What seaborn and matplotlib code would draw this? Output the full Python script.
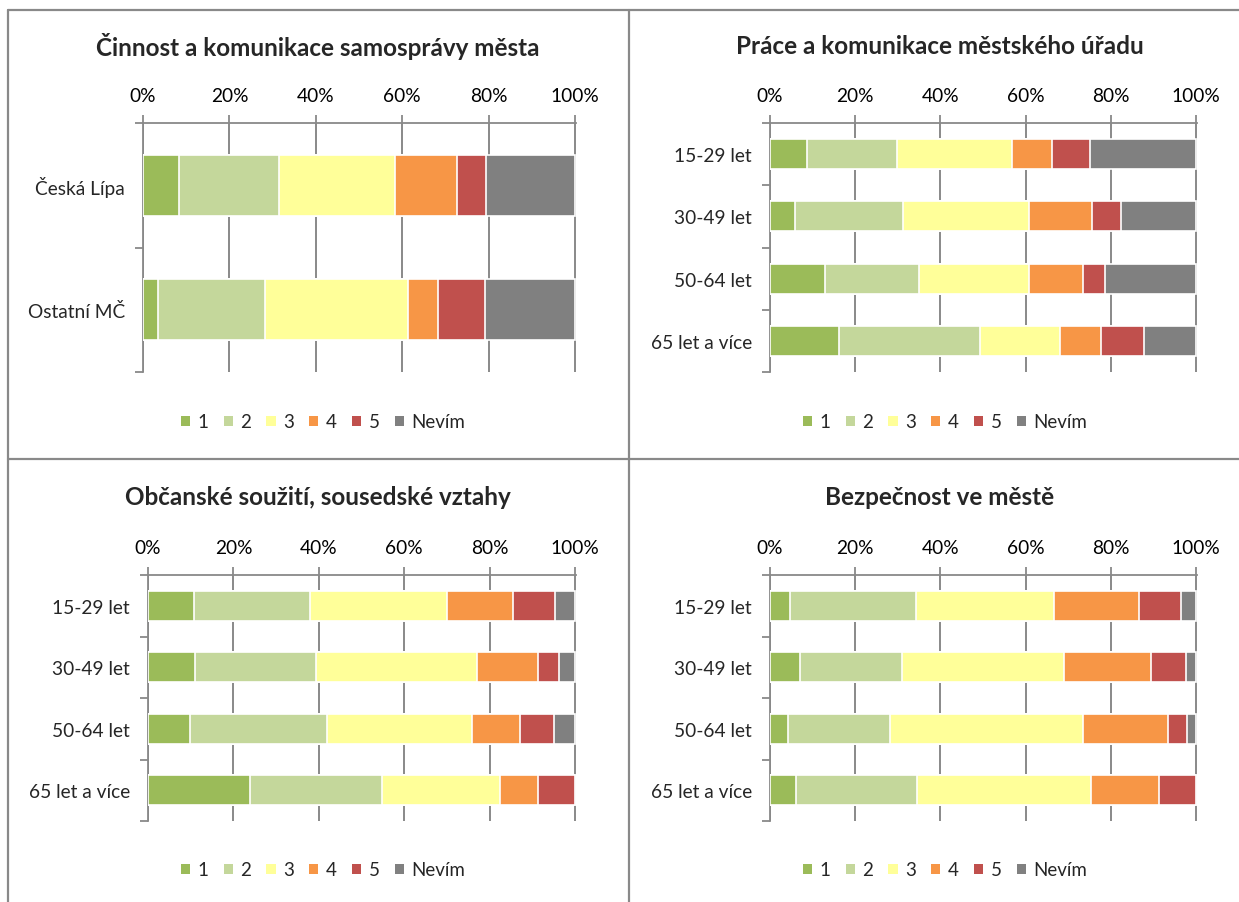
import numpy as np
import pandas as pd
import matplotlib
matplotlib.use("Agg")
import matplotlib.pyplot as plt
from matplotlib.patches import Patch
from matplotlib.lines import Line2D
from matplotlib.ticker import PercentFormatter
import seaborn as sns

# --- data (percent of respondents) ---
levels = ["1", "2", "3", "4", "5", "Nevím"]
colors = ["#9BBB59", "#C4D79B", "#FFFF99", "#F79646", "#C0504D", "#808080"]

mesta = ["Česká Lípa", "Ostatní MČ"]
vek = ["15-29 let", "30-49 let", "50-64 let", "65 let a více"]

samosprava = [
    [8.4, 23.1, 26.8, 14.3, 6.9, 20.5],
    [3.4, 24.8, 33.2, 6.8, 11.0, 20.8],
]
urad = [
    [8.6, 21.3, 26.9, 9.4, 9.0, 24.8],
    [5.8, 25.4, 29.6, 14.8, 6.8, 17.6],
    [12.9, 22.0, 25.9, 12.7, 5.1, 21.4],
    [16.1, 33.2, 18.7, 9.8, 9.9, 12.3],
]
souziti = [
    [10.7, 27.3, 32.1, 15.3, 9.9, 4.7],
    [10.9, 28.5, 37.7, 14.3, 4.9, 3.7],
    [9.9, 32.0, 34.0, 11.3, 7.8, 5.0],
    [23.8, 31.1, 27.6, 8.8, 8.7, 0.0],
]
bezpecnost = [
    [4.7, 29.6, 32.3, 20.1, 9.9, 3.4],
    [7.1, 23.8, 38.2, 20.4, 8.2, 2.3],
    [4.3, 23.8, 45.4, 20.0, 4.4, 2.1],
    [6.1, 28.4, 40.9, 15.9, 8.7, 0.0],
]

sns.set_style("white")
plt.rcParams["font.family"] = ["Lato", "DejaVu Sans"]

W, H = 1239, 903
fig = plt.figure(figsize=(W / 100, H / 100), dpi=100)
GRAY = "#898989"


def fx(x):
    return x / W


def fy(y):
    return 1 - y / H


panels = [
    # title, cats, rows, (left, top, right, bottom) px, legend center x, title center x, title y, legend y, bar width
    ("Činnost a komunikace samosprávy města", mesta, samosprava, (143, 124, 576, 373), 323, 318, 47, 423, 0.49),
    ("Práce a komunikace městského úřadu", vek, urad, (770, 124, 1197, 373), 945, 940, 47, 423, 0.48),
    ("Občanské soužití, sousedské vztahy", vek, souziti, (148, 576, 576, 822), 323, 318, 498, 871, 0.48),
    ("Bezpečnost ve městě", vek, bezpecnost, (770, 576, 1197, 822), 945, 940, 498, 871, 0.48),
]

for title, cats, rows, (l, t, r, b), lx, cx, ty, ly, bw in panels:
    ax = fig.add_axes([fx(l), fy(b), (r - l) / W, (b - t) / H])
    df = pd.DataFrame(rows, index=cats, columns=levels)
    cum = df.cumsum(axis=1)
    long = cum.reset_index(names="cat").melt(id_vars="cat", var_name="level", value_name="cum")
    # draw cumulative bars from the longest one down, so each segment shows
    for lvl, col in reversed(list(zip(levels, colors))):
        sns.barplot(data=long[long["level"] == lvl], x="cum", y="cat", order=cats,
                    color=col, saturation=1, width=bw, edgecolor="white", linewidth=1.2,
                    errorbar=None, orient="h", ax=ax, zorder=3)
    ax.set_xlim(0, 100.25)
    ax.set_ylim(len(cats) - 0.5, -0.5)
    ax.set_xlabel("")
    ax.set_ylabel("")
    ax.xaxis.tick_top()
    ax.set_xticks(np.arange(0, 101, 20))
    ax.xaxis.set_major_formatter(PercentFormatter(decimals=0))
    ax.tick_params(axis="x", top=True, length=6, width=1.3, color=GRAY, pad=8,
                   labelsize=13.8, labelcolor="black")
    ax.set_yticks(np.arange(-0.5, len(cats)), minor=True)
    ax.tick_params(axis="y", which="major", length=0, pad=13, labelsize=13.8)
    ax.tick_params(axis="y", which="minor", left=True, length=6, width=1.3, color=GRAY)
    ax.grid(axis="x", color=GRAY, linewidth=1.4, zorder=0)
    ax.grid(axis="y", visible=False)
    ax.set_axisbelow(True)
    for side in ["right", "bottom"]:
        ax.spines[side].set_visible(False)
    for side in ["top", "left"]:
        ax.spines[side].set_color(GRAY)
        ax.spines[side].set_linewidth(1.3)

    fig.text(fx(cx), fy(ty), title, ha="center", va="center", fontsize=17.5, fontweight="bold")
    handles = [Patch(facecolor=c, edgecolor="none") for c in colors]
    fig.legend(handles, levels, loc="center", bbox_to_anchor=(fx(lx), fy(ly)), ncol=6,
               frameon=False, fontsize=13.5, handlelength=0.5, handleheight=0.5,
               handletextpad=0.4, columnspacing=0.8)

# panel frame lines
for xs, ys in [((8, W), (11, 11)), ((8, 8), (11, H)), ((629, 629), (11, H)), ((8, W), (460, 460))]:
    fig.add_artist(Line2D([fx(xs[0]), fx(xs[1])], [fy(ys[0]), fy(ys[1])],
                          color=GRAY, linewidth=1.6, transform=fig.transFigure))

fig.savefig("out.png", dpi=100, facecolor="white")
